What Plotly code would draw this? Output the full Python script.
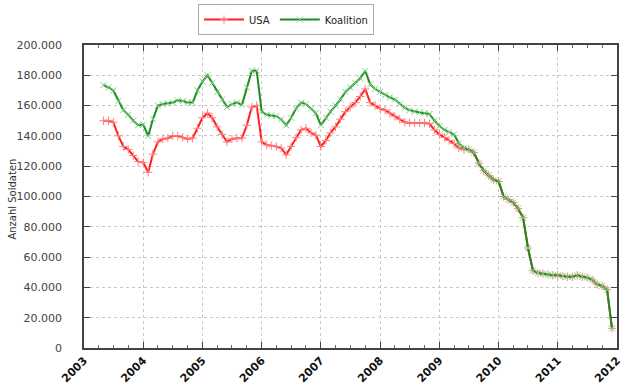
import pandas as pd
import plotly.graph_objects as go

start_month = "2003-05-01"

usa_k = [
    150, 150, 149, 140, 133, 131, 127, 123,
    122.5, 116, 128, 136, 138, 138.5, 140, 140, 139, 138, 138.5, 145,
    152, 155, 152, 146, 141, 136, 138, 138.5, 138.5, 147, 159, 160,
    136, 134, 133.5, 133, 132, 127.5, 133, 139, 144, 145, 142, 140.5,
    133, 137, 142, 146, 151, 156, 159, 162, 166, 171, 162, 160,
    158, 157, 155, 153, 151, 149, 148.5, 148.5, 148.5, 148.5, 148, 144,
    141, 139, 137, 135, 132, 131, 131, 129, 122, 117, 114, 111,
    110, 100, 98, 96, 92, 86, 66, 51, 49.5, 49, 48.5, 48,
    48, 47.5, 47, 47, 48, 47, 46.5, 45, 42, 41, 38.5, 13,
]

koalition_k = [
    173.5, 172, 170, 163, 157, 154, 150, 147,
    147.5, 140, 151, 160, 161, 161.5, 162, 163.5, 163, 162, 162, 170,
    176, 180, 175, 169, 164, 159, 161, 162, 160.5, 172, 183, 183,
    156, 154, 153.5, 153, 151, 147, 152, 158, 162, 161, 158, 155,
    147, 152, 156, 160, 164, 169, 172, 175, 178, 183, 174, 171,
    169, 167, 165.5, 164, 161, 158.5, 157, 156, 155.5, 155, 154.5, 150,
    146.5, 144, 142.5, 141, 135, 132, 131, 129, 122, 117, 114, 111,
    110, 100, 98, 96, 92, 86, 66, 51, 49.5, 49, 48.5, 48,
    48, 47.5, 47, 47, 48, 47, 46.5, 45, 42, 41, 38.5, 13,
]

year_ticks = [str(y) for y in range(2003, 2013)]
y_title = "Anzahl Soldaten"

months = pd.date_range(start_month, periods=len(usa_k), freq="MS")
usa = [v * 1000 for v in usa_k]
koalition = [v * 1000 for v in koalition_k]

x_range = ["2003-01-01", "2012-01-01"]
tickvals = [f"{y}-01-01" for y in year_ticks]

fig = go.Figure()
fig.add_trace(go.Scatter(
    x=months, y=usa, name="USA", mode="lines+markers",
    line=dict(color="#ff2020", width=2),
    marker=dict(symbol="cross-thin", size=6, color="#ff8080",
                line=dict(color="#ff8080", width=1)),
))
fig.add_trace(go.Scatter(
    x=months, y=koalition, name="Koalition", mode="lines+markers",
    line=dict(color="#1e8c1e", width=2),
    marker=dict(symbol="x-thin", size=6, color="#80d080",
                line=dict(color="#80d080", width=1)),
))
# invisible trace to anchor the top (mirrored) x axis
fig.add_trace(go.Scatter(x=[months[0]], y=[None], xaxis="x2", showlegend=False,
                         hoverinfo="skip", mode="lines"))

fig.add_annotation(
    text=y_title, textangle=-90, xref="paper", yref="paper",
    x=-0.135, y=0.49, xanchor="center", yanchor="middle", showarrow=False,
    font=dict(family="DejaVu Sans", size=10, color="#333"),
)

fig.update_layout(
    width=640, height=384,
    margin=dict(l=84, r=23, t=45, b=36, autoexpand=False),
    paper_bgcolor="white", plot_bgcolor="white",
    separators=",.",
    font=dict(family="DejaVu Sans", size=10, color="#333"),
    showlegend=True,
    legend=dict(
        orientation="h", x=0.379, xanchor="center", y=1.135, yanchor="top",
        bordercolor="#aaa", borderwidth=1, bgcolor="white",
        font=dict(family="DejaVu Sans", size=10, color="#222"),
        itemwidth=40, tracegroupgap=0,
    ),
    xaxis=dict(
        type="date",
        range=x_range,
        tickvals=tickvals,
        ticktext=year_ticks,
        tickangle=-45,
        automargin=False,
        tickfont=dict(family="DejaVu Sans", size=11, color="#111", weight="bold"),
        ticks="inside", ticklen=6, tickcolor="#444",
        showline=True, linecolor="#444", linewidth=1.5, mirror=True,
        showgrid=True, gridcolor="#c8c8c8", griddash="dot", gridwidth=1,
        minor=dict(dtick="M3", ticks="inside", ticklen=3, tickcolor="#666", showgrid=False),
        zeroline=False,
    ),
    xaxis2=dict(
        type="date", overlaying="x", side="top", range=x_range,
        tickvals=tickvals, showticklabels=False, automargin=False,
        ticks="inside", ticklen=6, tickcolor="#444",
        showline=False, showgrid=False, zeroline=False,
        minor=dict(dtick="M3", ticks="inside", ticklen=3, tickcolor="#666", showgrid=False),
    ),
    yaxis=dict(
        range=[0, 200000], dtick=20000, tick0=0,
        tickformat=",d",
        automargin=False,
        ticklabelstandoff=18,
        tickfont=dict(family="DejaVu Sans", size=11, color="#444"),
        ticks="inside", ticklen=6, tickcolor="#444",
        showline=True, linecolor="#444", linewidth=1.5, mirror="ticks",
        showgrid=True, gridcolor="#c8c8c8", griddash="dot", gridwidth=1,
        zeroline=False,
    ),
)

fig.write_html("out.html", post_script="document.body.style.margin='0';",
               config={"displayModeBar": False})
